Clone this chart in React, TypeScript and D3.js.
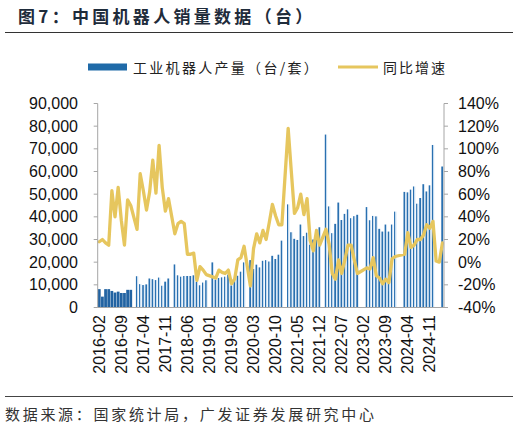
import React from 'react';
import * as d3 from 'd3';

// ---- data ----
const startYear = 2016;
const startMonth = 2;
const monthCount = 110; // 2016-02 .. 2025-03
const categories: string[] = Array.from({ length: monthCount }, (_, i) => {
  const m = startMonth - 1 + i;
  const y = startYear + Math.floor(m / 12);
  const mm = (m % 12) + 1;
  return `${y}-${mm < 10 ? '0' + mm : mm}`;
});

// industrial robot production (units); null = not published (January / Jan-Feb)
const production: (number | null)[] = [
  8100, 4800, 8100, 8100, 7300, 6600, 7000, 6400, 6400, 7800, 7800,
  null, 13800, 10300, 9900, 10200, 12800, 12500, 12100, 13200, 9600, 11400, 12800,
  null, 19000, 14200, 13600, 13900, 13900, 13900, 14200, 11400, 9800, 11000, 12000,
  null, 19900, 12300, 13000, 13300, 13600, 14500, 9700, 11900, 14000, 15800, 19900,
  null, 20900, 17000, 18900, 17700, 20600, 20900, 20300, 22800, 21400, 23300, 29500,
  null, 45500, 33200, 30300, 29800, 36600, 31500, 33000, 27700, 30000, 34000, 35400,
  null, 76300, 44600, 32800, 36900, 46300, 38600, 41300, 43300, 39400, 40300, 40900,
  null, null, 44300, 38500, 40400, 40200, 34700, 33500, 36600, 33500, 36600, 42300,
  null, null, 51000, 50800, 52000, 53400, 45800, 48300, 54400, 51200, 53900, 71700,
  null, null, 62200,
];

// year-on-year growth (%)
const growth: (number | null)[] = [
  18, 20, 17, 15, 63, 40, 66, 37, 15, 55, 50,
  null, 29, 78, 63, 46, 62, 90, 61, 103, 66, 45, 56,
  null, 25, 34, 36, 34, 7, 7, 8, -16, -4, -7, -11,
  null, -13, -14, -7, -9, -10, -7, -19, -15, 2, 4, 14,
  null, -21, 12, 25, 17, 28, 20, 35, 51, 41, 33, 33,
  null, 118, 80, 43, 48, 60, 42, 56, 19, 10, 28, 15,
  null, 29, 16, -10, -15, 2, -10, 2, 15, 15, 2, -10,
  null, null, -5, -6, 4, -12, -14, -19, -15, -18, 3, 5,
  null, null, 7, 26, 13, 15, 20, 20, 24, 33, 30, 36,
  1, 0, 17,
];

const leftTicks = [0, 10000, 20000, 30000, 40000, 50000, 60000, 70000, 80000, 90000];
const rightTicks = [-40, -20, 0, 20, 40, 60, 80, 100, 120, 140];
const xTickEvery = 7;

const title = '图7：中国机器人销量数据（台）';
const legendBar = '工业机器人产量（台/套）';
const legendLine = '同比增速';
const source = '数据来源：国家统计局，广发证券发展研究中心';

// ---- layout ----
const W = 519;
const H = 428;
const plot = { left: 97.7, right: 444, top: 103.5, bottom: 307.5 };
const BAR_DARK = '#2A70B0';
const BAR_LIGHT = '#C6DCF0';
const LINE = '#E6C65E';
const AXIS = '#A6A6A6';
const NUM_FONT = '"Liberation Sans", Arial, sans-serif';
const CJK_FONT = '"Noto Sans CJK SC", "Noto Sans", sans-serif';

export default function App() {
  const x = d3.scaleBand<string>().domain(categories).range([plot.left, plot.right]).padding(0);
  const yL = d3.scaleLinear().domain([0, 90000]).range([plot.bottom, plot.top]);
  const yR = d3.scaleLinear().domain([-40, 140]).range([plot.bottom, plot.top]);
  const bw = x.bandwidth();
  const cx = (c: string) => (x(c) as number) + bw / 2;

  const linePts = categories
    .map((c, i) => ({ c, v: growth[i] }))
    .filter((d) => d.v !== null) as { c: string; v: number }[];
  const linePath = d3
    .line<{ c: string; v: number }>()
    .x((d) => cx(d.c))
    .y((d) => yR(d.v))
    .curve(d3.curveLinear)(linePts) as string;

  const fmt = d3.format(',');

  return (
    <div style={{ position: 'absolute', left: 0, top: 0, width: W, height: H, background: '#fff' }}>
      <svg width={W} height={H} viewBox={`0 0 ${W} ${H}`}>
        <defs>
          <linearGradient id="barGrad" x1="0" x2="1" y1="0" y2="0">
            <stop offset="0%" stopColor={BAR_DARK} />
            <stop offset="55%" stopColor={BAR_DARK} />
            <stop offset="62%" stopColor={BAR_LIGHT} />
            <stop offset="100%" stopColor={BAR_LIGHT} />
          </linearGradient>
        </defs>
        <rect x={0} y={0} width={W} height={H} fill="#fff" />

        {/* title */}
        <text x={18} y={23} fontFamily={CJK_FONT} fontWeight={700} fontSize={17}
          letterSpacing={3.3} fill="#1f2c3b">{title}</text>
        <line x1={5} x2={513} y1={32.5} y2={32.5} stroke="#333" strokeWidth={1} />

        {/* legend */}
        <rect x={88} y={63.5} width={39} height={7} fill="#1F6AA8" />
        <text x={133} y={67} dominantBaseline="central" fontFamily={CJK_FONT} fontSize={14}
          letterSpacing={2.3} fill="#222">{legendBar}</text>
        <line x1={338} x2={378} y1={67} y2={67} stroke={LINE} strokeWidth={3} />
        <text x={383} y={67} dominantBaseline="central" fontFamily={CJK_FONT} fontSize={14}
          letterSpacing={2} fill="#222">{legendLine}</text>

        {/* bars */}
        {categories.map((c, i) => {
          const v = production[i];
          if (v === null) return null;
          const is2016 = c.startsWith('2016');
          const w = is2016 ? bw * 0.88 : 2.3;
          return (
            <rect key={c} x={cx(c) - w / 2} y={yL(v)} width={w}
              height={yL(0) - yL(v)}
              fill={is2016 ? '#2263A2' : 'url(#barGrad)'} />
          );
        })}

        {/* line */}
        <path d={linePath} fill="none" stroke={LINE} strokeWidth={3.3}
          strokeLinejoin="round" strokeLinecap="round" />

        {/* axes */}
        <line x1={plot.left} x2={plot.left} y1={plot.top} y2={plot.bottom} stroke={AXIS} />
        <line x1={plot.right} x2={plot.right} y1={plot.top} y2={plot.bottom} stroke={AXIS} />
        <line x1={plot.left} x2={plot.right + 4} y1={plot.bottom} y2={plot.bottom} stroke={AXIS} />
        {leftTicks.map((t) => (
          <g key={'l' + t}>
            <line x1={plot.left - 4} x2={plot.left} y1={yL(t)} y2={yL(t)} stroke={AXIS} />
            <text x={78} y={yL(t)} dominantBaseline="central" textAnchor="end"
              fontFamily={NUM_FONT} fontSize={16} fill="#111">{fmt(t)}</text>
          </g>
        ))}
        {rightTicks.map((t) => (
          <g key={'r' + t}>
            <line x1={plot.right} x2={plot.right + 4} y1={yR(t)} y2={yR(t)} stroke={AXIS} />
            <text x={458} y={yR(t)} dominantBaseline="central" textAnchor="start"
              fontFamily={NUM_FONT} fontSize={16} fill="#111">{`${t}%`}</text>
          </g>
        ))}
        {categories.map((c, i) =>
          i % xTickEvery === 0 ? (
            <text key={'x' + c} transform={`translate(${cx(c)},315) rotate(-90)`}
              textAnchor="end" dominantBaseline="central"
              fontFamily={NUM_FONT} fontSize={16} fill="#111">{c}</text>
          ) : null
        )}

        {/* source */}
        <line x1={5} x2={513} y1={396.5} y2={396.5} stroke="#444" strokeWidth={1} />
        <text x={5} y={413} dominantBaseline="central" fontFamily={CJK_FONT} fontSize={15}
          letterSpacing={2.7} fill="#333">{source}</text>
      </svg>
    </div>
  );
}
